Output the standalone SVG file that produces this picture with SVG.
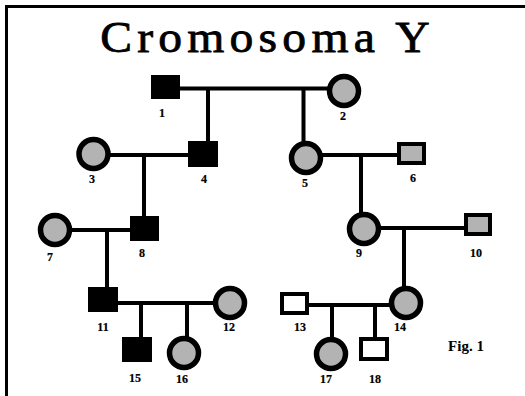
<svg xmlns="http://www.w3.org/2000/svg" width="525" height="396" viewBox="0 0 525 396">
<style>
.f{fill:#b3b3b3;stroke:#000;stroke-width:5.5}
.sb{fill:#000;stroke:#000;stroke-width:1}
.sg{fill:#b3b3b3;stroke:#000;stroke-width:4}
.sw{fill:#fff;stroke:#000;stroke-width:4}
.l{stroke:#000;stroke-width:4;fill:none}
.t{font-family:"Liberation Serif",serif;font-weight:bold;font-size:12px;text-anchor:middle;fill:#000;stroke:#000;stroke-width:0.2}
</style>
<rect width="525" height="396" fill="#fff"/>
<path d="M5 6.5H525M6.5 5V396" stroke="#000" stroke-width="3" fill="none"/>
<text transform="translate(265 52) scale(1.06 1)" x="0" y="0" font-family="Liberation Serif,serif" font-size="45" text-anchor="middle" textLength="311" lengthAdjust="spacing" stroke="#000" stroke-width="0.8">Cromosoma Y</text>
<g id="connectors" class="l">
<path d="M180 88.5H330M208 88.5V141M303.5 88.5V143"/>
<path d="M108 155H188M144 155V216"/>
<path d="M320 155H397M361 155V214"/>
<path d="M70 230H130M107 230V287"/>
<path d="M378 228H464M404 228V288"/>
<path d="M118 303H216M141 303V337M187 303V338"/>
<path d="M309 305H390M332 305V339M375 305V337"/>
</g>
<g id="n1"><rect class="sb" x="151.5" y="75.5" width="28" height="23"/><text class="t" x="162" y="117">1</text></g>
<g id="n2"><circle class="f" cx="344" cy="91" r="14.5"/><text class="t" x="343" y="120">2</text></g>
<g id="n3"><circle class="f" cx="93.5" cy="154" r="14.5"/><text class="t" x="92" y="183">3</text></g>
<g id="n4"><rect class="sb" x="188.5" y="141.5" width="29" height="25"/><text class="t" x="204" y="183">4</text></g>
<g id="n5"><circle class="f" cx="306" cy="158" r="14.5"/><text class="t" x="305" y="187">5</text></g>
<g id="n6"><rect class="sg" x="399" y="144" width="25" height="19"/><text class="t" x="413" y="182">6</text></g>
<g id="n7"><circle class="f" cx="55" cy="230" r="14.5"/><text class="t" x="50" y="261">7</text></g>
<g id="n8"><rect class="sb" x="130.5" y="216.5" width="28" height="24"/><text class="t" x="142" y="257">8</text></g>
<g id="n9"><circle class="f" cx="364" cy="229" r="14.5"/><text class="t" x="359" y="257">9</text></g>
<g id="n10"><rect class="sg" x="466" y="215" width="24" height="19"/><text class="t" x="476" y="257">10</text></g>
<g id="n11"><rect class="sb" x="88.5" y="287.5" width="29" height="24"/><text class="t" x="103" y="331">11</text></g>
<g id="n12"><circle class="f" cx="230" cy="303" r="14.5"/><text class="t" x="229" y="331">12</text></g>
<g id="n13"><rect class="sw" x="282" y="294" width="25" height="19"/><text class="t" x="300" y="331">13</text></g>
<g id="n14"><circle class="f" cx="406" cy="303" r="14.5"/><text class="t" x="400" y="331">14</text></g>
<g id="n15"><rect class="sb" x="122.5" y="337.5" width="29" height="24"/><text class="t" x="135" y="382">15</text></g>
<g id="n16"><circle class="f" cx="184" cy="353" r="14.5"/><text class="t" x="182" y="383">16</text></g>
<g id="n17"><circle class="f" cx="331" cy="354" r="14.5"/><text class="t" x="326" y="383">17</text></g>
<g id="n18"><rect class="sw" x="361" y="339" width="26" height="20"/><text class="t" x="375" y="383">18</text></g>
<text x="466" y="351" font-family="Liberation Serif,serif" font-weight="bold" font-size="15" text-anchor="middle">Fig. 1</text>
</svg>
